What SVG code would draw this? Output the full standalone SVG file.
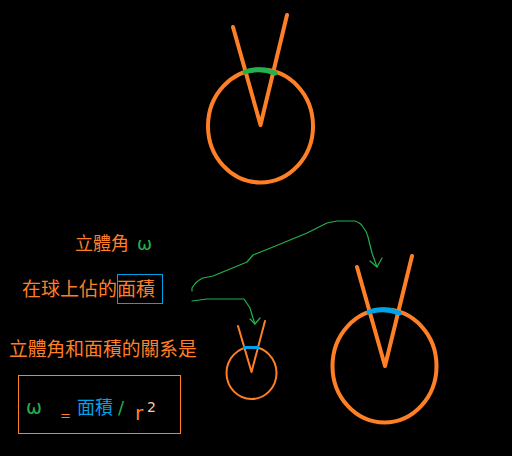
<svg xmlns="http://www.w3.org/2000/svg" width="512" height="456" viewBox="0 0 512 456">
<style>
.o{fill:none;stroke:#FF7F27;stroke-linecap:round;stroke-linejoin:round}
.g{fill:none;stroke:#22B14C;stroke-width:1.2;stroke-linecap:round;stroke-linejoin:round}
.t{font-family:"Noto Sans CJK TC","Noto Sans CJK SC",sans-serif;fill:#FF7F27}
.m{font-family:"DejaVu Sans","Liberation Sans",sans-serif}
</style>
<rect width="512" height="456" fill="#000"/>
<g id="top-sphere">
<ellipse class="o" cx="260.5" cy="126" rx="52.5" ry="56.5" stroke-width="4"/>
<polyline class="o" points="233,27 260.5,125 287,15" stroke-width="4"/>
<path d="M245,72 Q260,67 275,73" fill="none" stroke="#22B14C" stroke-width="5" stroke-linecap="round"/>
</g>
<g id="big-sphere">
<ellipse class="o" cx="384.5" cy="366" rx="52" ry="56.5" stroke-width="4"/>
<polyline class="o" points="357,267 385,366 412,256" stroke-width="4"/>
<path d="M369,312 Q384,307 399,313" fill="none" stroke="#00A2E8" stroke-width="5" stroke-linecap="round"/>
</g>
<g id="small-sphere">
<ellipse class="o" cx="251.5" cy="373" rx="25" ry="26" stroke-width="2"/>
<polyline class="o" points="238,326 251.5,372 265,321" stroke-width="2"/>
<line x1="243" y1="347.5" x2="259" y2="347.5" stroke="#00A2E8" stroke-width="3"/>
</g>
<g id="connectors">
<path class="g" d="M192,291 L192,288 Q196,281 203,278 L213,276 L247,262 L253,255 L273,247 L307,233 L327,223 L337,221 L355,221 Q361,223 363,227 Q367,232 368,237 L372,253 L377,267"/>
<polyline class="g" points="370,261 377,267 382,258"/>
<path class="g" d="M192,301 L207,299 L244,299 L250,308 L253,318 L255,324"/>
<polyline class="g" points="250,319 255,324 260,318"/>
</g>
<g id="label-solid-angle">
<text class="t" x="75" y="250" font-size="18">立體角</text>
<text class="m" x="137" y="250" font-size="18" fill="#22B14C">ω</text>
</g>
<g id="label-area">
<text class="t" x="22" y="296" font-size="19">在球上佔的面積</text>
<rect x="117.5" y="274.5" width="45" height="29" fill="none" stroke="#00A2E8" stroke-width="1"/>
</g>
<g id="label-relation">
<text class="t" x="9" y="356" font-size="18.8">立體角和面積的關系是</text>
</g>
<g id="formula">
<rect x="18.5" y="375.5" width="162" height="58" fill="none" stroke="#FF7F27" stroke-width="1"/>
<text class="m" x="26" y="414" font-size="19" fill="#22B14C">ω</text>
<text class="m" x="60" y="420" font-size="13" fill="#FF7F27">=</text>
<text class="t" x="77" y="414" font-size="18" style="fill:#00A2E8">面積</text>
<text class="m" x="118" y="414" font-size="18" fill="#22B14C">/</text>
<text class="m" x="135" y="420" font-size="20" fill="#FF7F27">r</text>
<text class="m" x="147" y="412" font-size="14" fill="#FFC8A0">2</text>
</g>
</svg>
